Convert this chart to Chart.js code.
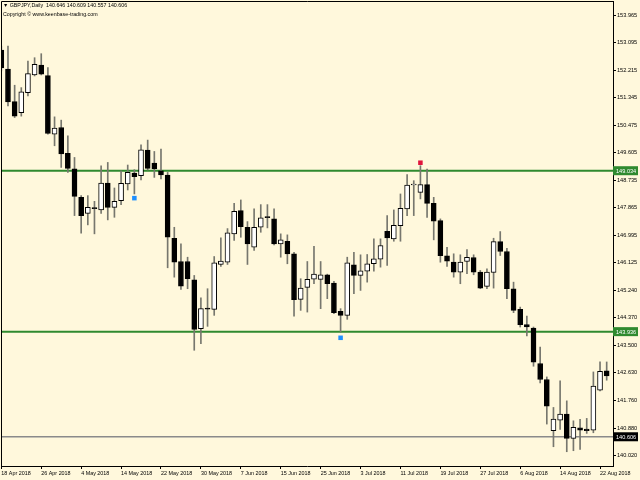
<!DOCTYPE html>
<html>
<head>
<meta charset="utf-8">
<script src="https://cdn.jsdelivr.net/npm/chart.js@4.4.1/dist/chart.umd.min.js"></script>
<style>
  html, body { margin: 0; padding: 0; background: #fff8dc; }
  #wrap { width: 640px; height: 480px; }
</style>
</head>
<body>
<div id="wrap"><canvas id="chart" width="640" height="480"></canvas></div>
<script>
// GBPJPY diario, 18 abr - 23 ago 2018
const opens = [152.858,152.257,151.224,150.876,151.508,152.068,152.384,152.045,150.194,150.402,
  149.581,149.097,148.190,147.685,147.855,147.792,148.645,147.874,148.086,148.614,
  148.961,148.876,149.688,149.277,149.034,148.898,146.895,146.158,146.158,145.580,
  144.032,144.664,144.642,146.064,146.136,147.034,147.770,147.242,146.610,147.242,
  147.571,147.508,146.718,146.800,146.402,144.958,145.337,145.599,145.590,145.738,
  145.473,144.578,144.452,146.054,145.716,145.852,146.086,146.231,147.116,146.876,
  147.296,147.824,148.582,148.348,148.592,148.001,147.454,146.339,146.136,145.820,
  146.158,146.285,145.820,145.368,145.811,146.790,146.474,145.296,144.642,144.158,
  144.051,142.926,142.420,140.796,141.134,141.324,140.556,140.891,140.850,140.818,
  142.082,142.692];
const highs = [152.984,152.984,151.742,151.666,152.510,152.614,152.741,152.298,150.740,150.636,
  150.140,149.454,148.244,148.244,148.064,149.192,149.296,148.487,149.034,149.214,
  149.066,149.856,150.004,149.644,149.720,148.980,147.242,146.718,146.294,145.716,
  145.011,145.296,146.316,146.907,147.201,147.999,148.108,147.422,147.824,147.960,
  147.960,147.824,147.034,147.002,146.452,145.612,146.158,146.642,146.158,145.757,
  145.526,144.664,146.294,146.452,146.370,146.380,146.876,146.876,147.612,147.792,
  148.298,148.908,148.718,149.192,149.088,148.190,147.508,146.610,146.402,146.370,
  146.538,146.370,145.874,145.928,146.895,147.106,146.579,145.504,144.714,144.430,
  144.082,143.450,142.502,141.535,142.376,141.744,141.112,141.156,141.188,142.660,
  142.976,142.976];
const lows = [152.194,151.088,150.718,150.763,151.404,152.036,152.068,150.194,149.824,149.138,
  148.980,147.612,147.053,147.318,147.034,147.685,147.476,147.558,147.960,148.424,
  148.298,148.740,149.056,148.822,148.772,145.959,145.662,145.274,145.296,143.346,
  143.558,144.104,144.452,146.000,146.064,146.822,146.926,146.064,146.506,147.084,
  147.223,146.686,146.294,146.086,144.430,144.610,144.556,145.454,144.664,144.980,
  144.506,143.924,144.326,145.138,145.242,145.504,145.852,145.979,146.032,146.800,
  146.800,147.612,147.612,148.140,147.558,146.844,146.136,146.000,145.662,145.454,
  145.770,145.738,145.296,145.296,145.315,146.348,144.980,144.537,144.082,143.798,
  142.840,142.313,141.008,140.290,140.840,140.132,140.164,140.208,140.714,140.733,
  142.060,142.398];
const closes = [152.289,151.214,150.763,151.530,152.109,152.406,152.090,150.213,150.383,149.562,
  149.107,148.222,147.612,147.874,147.833,148.645,147.874,148.064,148.633,148.980,
  148.844,149.698,149.107,149.088,148.898,146.926,146.136,145.378,145.612,144.010,
  144.664,144.651,146.117,146.168,147.065,147.748,147.264,146.718,147.242,147.539,
  147.549,146.718,146.844,146.402,144.948,145.315,145.590,145.757,145.738,145.454,
  144.537,144.452,146.117,145.716,145.865,146.086,146.244,146.664,146.907,147.306,
  147.843,148.582,148.592,148.592,148.001,147.432,146.339,146.168,145.820,146.136,
  146.294,145.820,145.315,145.820,146.790,146.474,145.296,144.610,144.158,144.082,
  142.967,142.420,141.576,141.166,141.324,140.556,140.903,140.818,140.796,142.208,
  142.682,142.534];

// etiquetas del eje X, una cada 6 velas
const dateTicks = ['18 Apr 2018','26 Apr 2018','4 May 2018','14 May 2018','22 May 2018','30 May 2018',
  '7 Jun 2018','15 Jun 2018','25 Jun 2018','3 Jul 2018','11 Jul 2018','19 Jul 2018',
  '27 Jul 2018','6 Aug 2018','14 Aug 2018','22 Aug 2018'];
const priceTicks = [153.965,153.095,152.215,151.345,150.475,149.605,148.735,147.865,146.995,
  146.125,145.240,144.370,143.500,142.630,141.760,140.880,140.020];

// niveles horizontales y sus etiquetas en el eje
const levels = [149.034, 143.936, 140.606];
const levelLine = ['#2f8a2f', '#2f8a2f', '#8a8a8a'];
const levelTag = ['#2f8a2f', '#2f8a2f', '#000000'];

// señales (cuadrados azul / rojo)
const buyMarks = [{ x: 20, y: 148.165 }, { x: 51, y: 143.741 }];
const sellMarks = [{ x: 63, y: 149.287 }];

const headerLines = ['\u25BC GBPJPY,Daily  140.646 140.609 140.557 140.606', 'Copyright \u00A9 www.keenbase-trading.com'];

const FONT = "'Liberation Sans', sans-serif";
const BG = '#fff8dc';

const idx = opens.map((_, i) => i);
const wickData = idx.map(i => ({ x: i, y: [lows[i], highs[i]] }));
const bodyData = idx.map(i => ({ x: i, y: [opens[i], closes[i]] }));
const bodyFill = idx.map(i => closes[i] >= opens[i] ? '#ffffff' : '#000000');

const bgPlugin = {
    id: 'bg',
    beforeDraw(chart) {
        const ctx = chart.ctx;
        ctx.save();
        ctx.fillStyle = BG;
        ctx.fillRect(0, 0, chart.width, chart.height);
        ctx.restore();
    }
};

const framePlugin = {
    id: 'frame',
    afterDraw(chart) {
        const { ctx, chartArea: a, scales } = chart;
        ctx.save();
        // borde superior e izquierdo
        ctx.strokeStyle = '#000';
        ctx.lineWidth = 1;
        ctx.beginPath();
        ctx.moveTo(a.left + 0.5, a.bottom);
        ctx.lineTo(a.left + 0.5, a.top + 0.5);
        ctx.lineTo(a.right, a.top + 0.5);
        ctx.stroke();
        // etiquetas de los niveles sobre el eje de precios
        ctx.font = `5.6px ${FONT}`;
        ctx.textBaseline = 'middle';
        levels.forEach((v, k) => {
            const y = scales.y.getPixelForValue(v);
            ctx.fillStyle = levelTag[k];
            ctx.fillRect(a.right, y - 4.5, 25, 9);
            ctx.fillStyle = '#ffffff';
            ctx.fillText(v.toFixed(3), a.right + 3, y + 0.5);
        });
        // cabecera
        ctx.font = `5.3px ${FONT}`;
        ctx.fillStyle = '#000';
        headerLines.forEach((t, k) => ctx.fillText(t, 3, 6 + k * 9));
        ctx.restore();
    }
};

new Chart(document.getElementById('chart'), {
    type: 'bar',
    data: {
        datasets: [
            { type: 'bar', data: wickData, backgroundColor: '#77776e', borderWidth: 0, barThickness: 1, grouped: false, order: 2 },
            { type: 'bar', data: bodyData, backgroundColor: bodyFill, borderColor: '#000000', borderWidth: 1, borderSkipped: false,
              barThickness: 5, minBarLength: 1, grouped: false, order: 1 },
            ...levels.map((v, k) => ({
                type: 'line', data: [{ x: -1, y: v }, { x: 93, y: v }], borderColor: levelLine[k],
                borderWidth: k < 2 ? 2 : 1.5, pointRadius: 0, order: 3
            })),
            { type: 'line', data: buyMarks, showLine: false, pointStyle: 'rect', pointRadius: 3.2, backgroundColor: '#1e8fff', borderWidth: 0, order: 0 },
            { type: 'line', data: sellMarks, showLine: false, pointStyle: 'rect', pointRadius: 3.2, backgroundColor: '#e0143c', borderWidth: 0, order: 0 }
        ]
    },
    options: {
        responsive: false,
        animation: false,
        devicePixelRatio: 1,
        layout: { autoPadding: false, padding: { left: 1, top: 1, right: 0, bottom: 0 } },
        plugins: { legend: { display: false }, tooltip: { enabled: false } },
        scales: {
            x: {
                type: 'linear', min: -0.05, max: 91.95, offset: false,
                grid: { drawOnChartArea: false, tickLength: 3, color: '#000', offset: false },
                border: { color: '#000', width: 1 },
                afterBuildTicks: s => { s.ticks = dateTicks.map((_, k) => ({ value: k * 6 })); },
                ticks: { autoSkip: false, maxRotation: 0, align: 'start', padding: 1, color: '#000',
                         font: { family: FONT, size: 5.4 }, callback: v => dateTicks[Math.round(v / 6)] },
                afterFit: s => { s.height = 14; s.paddingLeft = 0; s.paddingRight = 0; }
            },
            y: {
                type: 'linear', position: 'right', min: 139.68, max: 154.41,
                afterBuildTicks: s => { s.ticks = priceTicks.map(v => ({ value: v })); },
                grid: { drawOnChartArea: false, tickLength: 3, color: '#000' },
                border: { color: '#000', width: 1 },
                ticks: { padding: 1, color: '#000', font: { family: FONT, size: 5.6 }, callback: v => v.toFixed(3) },
                afterFit: s => { s.width = 27; s.paddingTop = 0; s.paddingBottom = 0; }
            }
        }
    },
    plugins: [bgPlugin, framePlugin]
});
</script>
</body>
</html>
